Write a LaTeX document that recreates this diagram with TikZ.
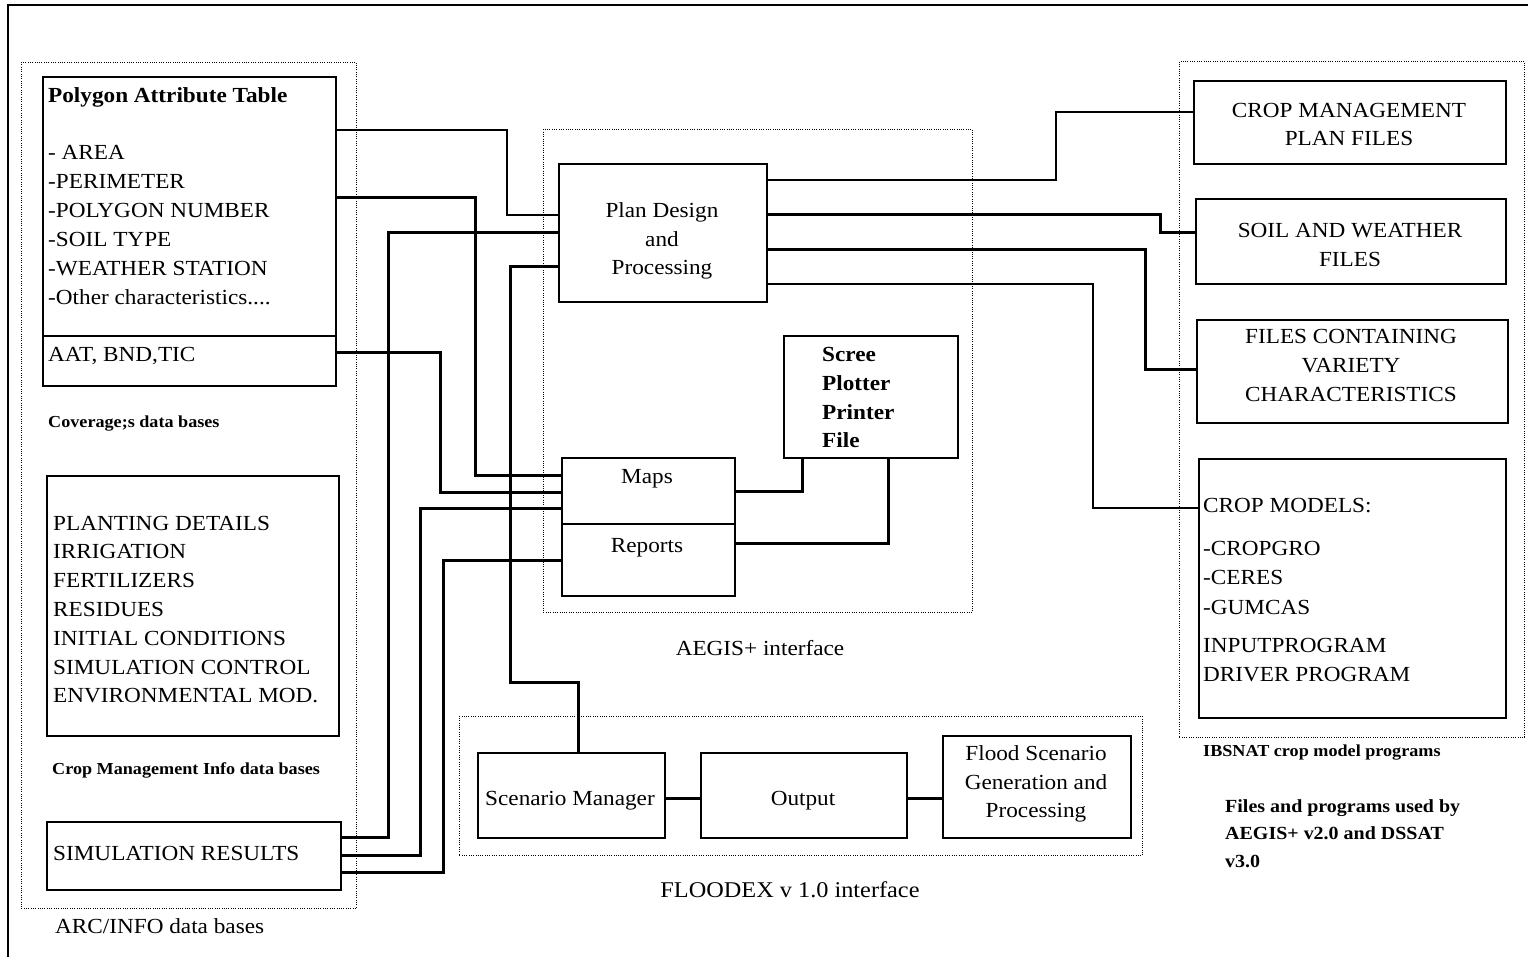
\documentclass[tikz,border=0pt]{standalone}
\usepackage{fontspec}
\setmainfont[FakeStretch=1.08]{Liberation Serif}
\begin{document}
\begin{tikzpicture}[x=1pt,y=-1pt,
 box/.style={draw, line width=1.6pt, inner sep=0pt, anchor=north west},
 grp/.style={draw, line width=0.9pt, dash pattern=on 1pt off 1.3pt, inner sep=0pt, anchor=north west},
 thinc/.style={line width=1.5pt},
 thickc/.style={line width=3pt},
 lst/.style={inner sep=0pt, font=\fontsize{21.5}{29}\selectfont},
 lstb/.style={inner sep=0pt, font=\fontsize{21.5}{29}\selectfont\bfseries},
 lbl/.style={inner sep=0pt, font=\fontsize{16.8}{20}\selectfont\bfseries},
]
\useasboundingbox (0,0) rectangle (1528,957);
% outer frame
\draw[line width=2pt] (8,957) -- (8,5) -- (1528,5);

% groups
\node[grp, minimum width=335pt, minimum height=846pt] (grpL) at (21,62) {};
\node[grp, minimum width=429pt, minimum height=483pt] (grpA) at (543,129) {};
\node[grp, minimum width=683pt, minimum height=139pt] (grpF) at (459,716) {};
\node[grp, minimum width=345pt, minimum height=676pt] (grpR) at (1179,61) {};

% left boxes
\node[box, minimum width=293pt, minimum height=309pt] (pat) at (42,76) {};
\draw[line width=1.6pt] (pat.west |- 0,336) -- (pat.east |- 0,336);
\node[box, minimum width=292pt, minimum height=260pt] (cm) at (46,475) {};
\node[box, minimum width=294pt, minimum height=68pt] (sim) at (46,821) {};

% middle boxes
\node[box, minimum width=208pt, minimum height=138pt] (plan) at (558,163) {};
\node[box, minimum width=174pt, minimum height=122pt] (scree) at (783,335) {};
\node[box, minimum width=173pt, minimum height=138pt] (maps) at (561,457) {};
\draw[line width=1.6pt] (maps.west |- 0,524) -- (maps.east |- 0,524);

% floodex boxes
\node[box, minimum width=187pt, minimum height=85pt] (scen) at (477,752) {};
\node[box, minimum width=206pt, minimum height=85pt] (out) at (700,752) {};
\node[box, minimum width=188pt, minimum height=102pt] (flood) at (942,735) {};

% right boxes
\node[box, minimum width=312pt, minimum height=83pt] (cmp) at (1193,80) {};
\node[box, minimum width=310pt, minimum height=85pt] (soil) at (1195,198) {};
\node[box, minimum width=311pt, minimum height=103pt] (files) at (1196,319) {};
\node[box, minimum width=307pt, minimum height=259pt] (models) at (1198,458) {};

% ---- texts ----
\node[lstb, anchor=base west] (pathead) at (48,103) {Polygon Attribute Table};
\foreach \t [count=\i from 0] in {{- AREA},{-PERIMETER},{-POLYGON NUMBER},{-SOIL TYPE},{-WEATHER STATION}}
  \node[lst, anchor=base west] (pa\i) at (48,160+29*\i) {\t};
\node[lst, anchor=base west] (pa5) at (48,305) {-Other characteristics....};
\node[lst, anchor=base west] (aat) at (48,362) {AAT, BND,TIC};
\node[lbl, anchor=base west] (covl) at (48,427) {Coverage;s data bases};
\foreach \t [count=\i from 0] in {{PLANTING DETAILS},{IRRIGATION},{FERTILIZERS},{RESIDUES},{INITIAL CONDITIONS},{SIMULATION CONTROL},{ENVIRONMENTAL MOD.}}
  \node[lst, anchor=base west] (cmt\i) at (53,530+28.8*\i) {\t};
\node[lbl, anchor=base west] (cml) at (52,774) {Crop Management Info data bases};
\node[lst, anchor=base west] (simt) at (53,860) {SIMULATION RESULTS};
\node[lst, anchor=base west] (arcl) at (55,933) {ARC/INFO data bases};

\node[lst, anchor=base] (pl1) at (662,218) {Plan Design};
\node[lst, anchor=base] (pl2) at (662,247) {and};
\node[lst, anchor=base] (pl3) at (662,275) {Processing};
\foreach \t [count=\i from 0] in {Scree,Plotter,Printer,File}
  \node[lstb, anchor=base west] (sc\i) at (822,362+28.5*\i) {\t};
\node[lst, anchor=base] (mapst) at (647,483) {Maps};
\node[lst, anchor=base] (rept) at (647,552) {Reports};
\node[lst, anchor=base] (aegl) at (760,655) {AEGIS+ interface};

\node[lst, anchor=base] (scent) at (570,805) {Scenario Manager};
\node[lst, anchor=base] (outt) at (803,805) {Output};
\node[lst, anchor=base] (fl1) at (1036,760) {Flood Scenario};
\node[lst, anchor=base] (fl2) at (1036,789) {Generation and};
\node[lst, anchor=base] (fl3) at (1036,817) {Processing};
\node[inner sep=0pt, font=\fontsize{22.5}{29}\selectfont, anchor=base] (fldl) at (790,897) {FLOODEX v 1.0 interface};

\node[lst, anchor=base] (cmp1) at (1349,118) {CROP MANAGEMENT};
\node[lst, anchor=base] (cmp2) at (1349,146) {PLAN FILES};
\node[lst, anchor=base] (so1) at (1350,238) {SOIL AND WEATHER};
\node[lst, anchor=base] (so2) at (1350,267) {FILES};
\node[lst, anchor=base] (fi1) at (1351,344) {FILES CONTAINING};
\node[lst, anchor=base] (fi2) at (1351,373) {VARIETY};
\node[lst, anchor=base] (fi3) at (1351,401) {CHARACTERISTICS};
\node[lst, anchor=base west] (mo1) at (1203,512) {CROP MODELS:};
\node[lst, anchor=base west] (mo2) at (1203,555) {-CROPGRO};
\node[lst, anchor=base west] (mo3) at (1203,584) {-CERES};
\node[lst, anchor=base west] (mo4) at (1203,614) {-GUMCAS};
\node[lst, anchor=base west] (mo5) at (1203,652) {INPUTPROGRAM};
\node[lst, anchor=base west] (mo6) at (1203,681) {DRIVER PROGRAM};
\node[lbl, anchor=base west] (ibl) at (1203,756) {IBSNAT crop model programs};
\foreach \t [count=\i from 0] in {{Files and programs used by},{AEGIS+ v2.0 and DSSAT},{v3.0}}
  \node[inner sep=0pt, font=\fontsize{18.5}{24}\selectfont\bfseries, anchor=base west] (fp\i) at (1225,812+27.5*\i) {\t};

% ---- connectors ----
\draw[thinc] (pat.east |- 0,130) -| (507,215) -- (plan.west |- 0,215);
\draw[thickc] (pat.east |- 0,198) -| (475,475) -- (maps.west |- 0,475);
\draw[thickc] (pat.east |- 0,353) -| (440,492) -- (maps.west |- 0,492);
\draw[thickc] (plan.west |- 0,233) -| (388,837) -- (sim.east |- 0,837);
\draw[thickc] (plan.west |- 0,267) -| (510,682) -- (578,682) -- (scen.north -| 578,0);
\draw[thickc] (sim.east |- 0,855) -| (420,508) -- (maps.west |- 0,508);
\draw[thickc] (sim.east |- 0,872) -| (443,560) -- (maps.west |- 0,560);

\draw[thinc] (plan.east |- 0,180) -| (1056,112) -- (cmp.west |- 0,112);
\draw[thickc] (plan.east |- 0,215) -| (1160,233) -- (soil.west |- 0,233);
\draw[thickc] (plan.east |- 0,250) -| (1145,369) -- (files.west |- 0,369);
\draw[thinc] (plan.east |- 0,284) -| (1093,508) -- (models.west |- 0,508);

\draw[thickc] (scree.south -| 802,0) |- (maps.east |- 0,491);
\draw[thickc] (scree.south -| 888,0) |- (maps.east |- 0,543);

\draw[thickc] (scen.east |- 0,798) -- (out.west |- 0,798);
\draw[thickc] (out.east |- 0,798) -- (flood.west |- 0,798);
\end{tikzpicture}
\end{document}
